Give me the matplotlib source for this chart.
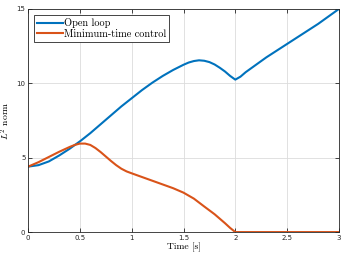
import matplotlib
matplotlib.use("Agg")
import matplotlib.pyplot as plt

# -------------------------------------------------
# Data
# -------------------------------------------------

t_open = [0.0, 0.1, 0.2, 0.3, 0.4, 0.5, 0.6, 0.7, 0.8, 0.9, 1.0,
          1.1, 1.2, 1.3, 1.4, 1.5, 1.55, 1.6, 1.65, 1.7, 1.75, 1.8, 1.85, 1.9, 1.95, 2.0,
          2.05, 2.1, 2.2, 2.3, 2.4, 2.5, 2.6, 2.7, 2.8, 2.9, 3.0]
open_loop = [4.4, 4.5, 4.75, 5.15, 5.6, 6.1, 6.65, 7.25, 7.85, 8.45, 9.0,
             9.55, 10.05, 10.5, 10.9, 11.25, 11.4, 11.5, 11.55, 11.52, 11.43, 11.27, 11.05, 10.8, 10.5, 10.25,
             10.45, 10.75, 11.25, 11.75, 12.2, 12.65, 13.1, 13.55, 14.0, 14.5, 15.0]

t_ctrl = [0.0, 0.1, 0.2, 0.3, 0.4, 0.45, 0.5, 0.55, 0.6, 0.65, 0.7, 0.75, 0.8, 0.85, 0.9, 0.95, 1.0,
          1.1, 1.2, 1.3, 1.4, 1.5, 1.6, 1.7, 1.8, 1.9, 1.95, 2.0, 2.5, 3.0]
min_time = [4.4, 4.7, 5.05, 5.4, 5.72, 5.86, 5.95, 5.95, 5.86, 5.65, 5.38, 5.08, 4.78, 4.5, 4.26, 4.08, 3.95,
            3.7, 3.45, 3.2, 2.95, 2.65, 2.25, 1.72, 1.2, 0.6, 0.28, 0.0, 0.0, 0.0]

xticks = [0, 0.5, 1, 1.5, 2, 2.5, 3]
xticklabels = ["0", "0.5", "1", "1.5", "2", "2.5", "3"]
yticks = [0, 5, 10, 15]

# -------------------------------------------------
# Figure
# -------------------------------------------------

plt.rcParams["mathtext.fontset"] = "cm"

fig = plt.figure(figsize=(3.43, 2.57), dpi=100)
ax = fig.add_axes([0.082, 0.097, 0.906, 0.868])

ax.plot(t_open, open_loop, color="#0072BD", lw=1.5, label="Open loop")
ax.plot(t_ctrl, min_time, color="#D95319", lw=1.5, label="Minimum-time control")

ax.set_xlim(0, 3)
ax.set_ylim(0, 15)
ax.set_xticks(xticks)
ax.set_xticklabels(xticklabels)
ax.set_yticks(yticks)

ax.grid(True, color="#dcdcdc", lw=0.6)
ax.set_axisbelow(True)
ax.tick_params(direction="in", top=True, right=True, length=3, width=0.6,
               labelsize=5, colors="#262626", pad=2)
for s in ax.spines.values():
    s.set_color("#262626")
    s.set_linewidth(0.6)

ax.set_xlabel("Time [s]", family="cmr10", fontsize=7, labelpad=1)
ax.set_ylabel(r"$L^2$ norm", family="cmr10", fontsize=7, labelpad=3)

leg = ax.legend(loc="upper left", prop={"family": "cmr10", "size": 7.4},
                handlelength=2.5, handletextpad=0.1, borderpad=0.3,
                labelspacing=0.1, fancybox=False, framealpha=1,
                borderaxespad=0.6)
leg.get_frame().set_edgecolor("#262626")
leg.get_frame().set_linewidth(0.6)

fig.savefig("out.png", dpi=100)
